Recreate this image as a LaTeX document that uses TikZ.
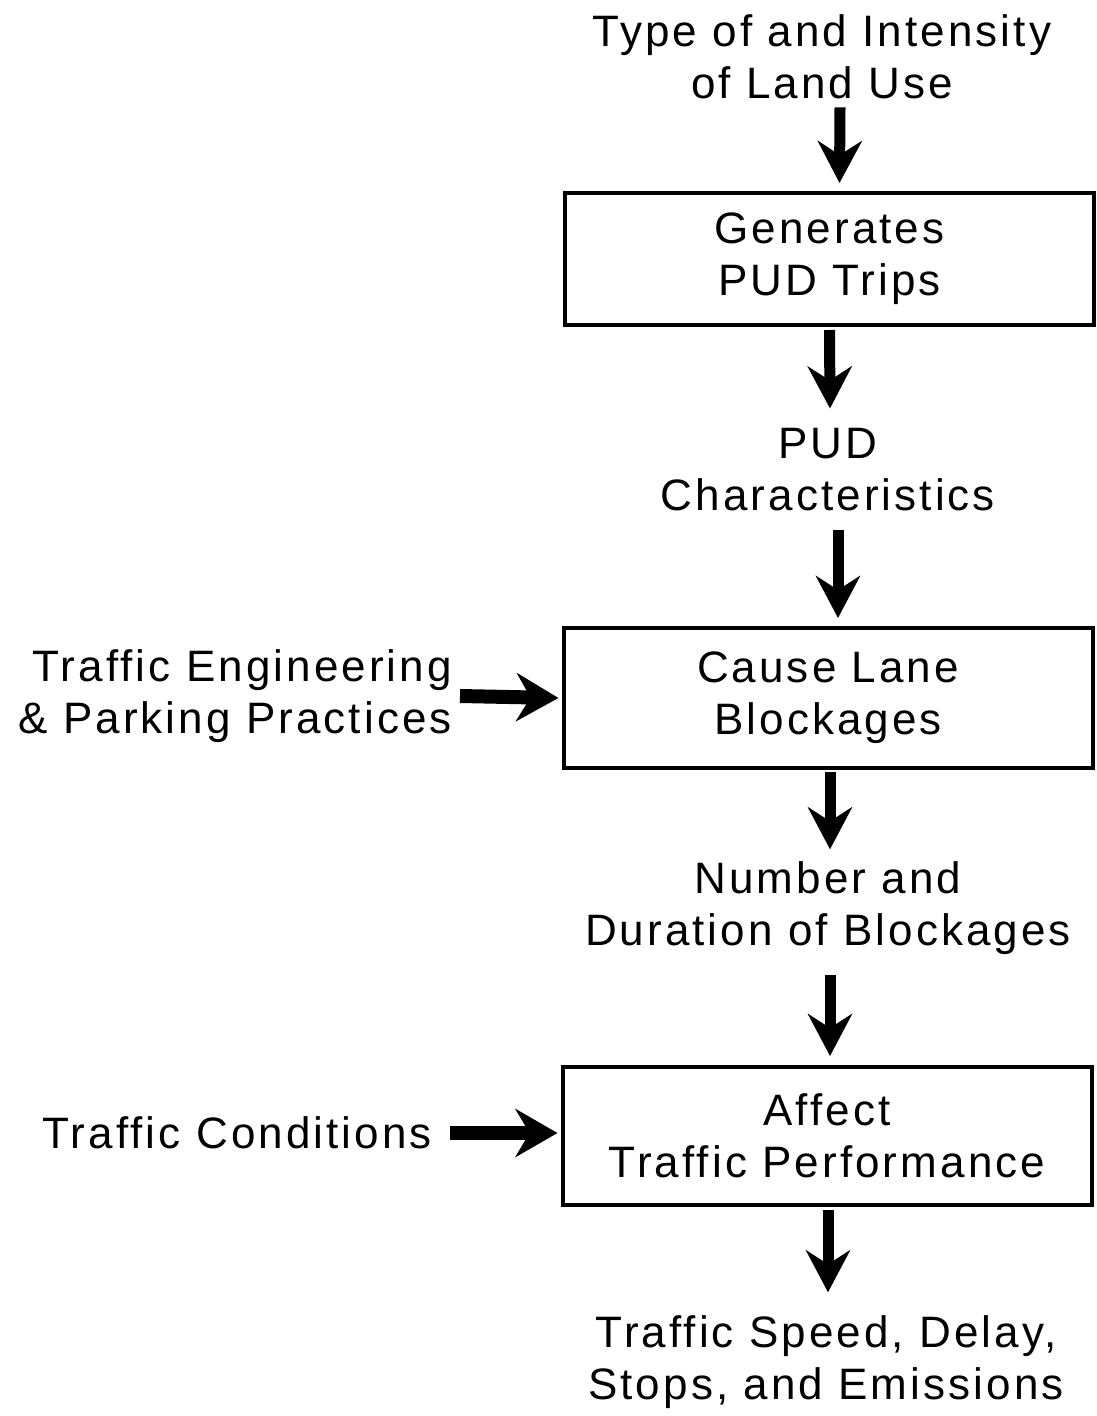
\documentclass[tikz,border=0pt]{standalone}
\usepackage{fontspec}
\setmainfont{Liberation Sans}[LetterSpace=7]
\usetikzlibrary{arrows.meta,calc}
\begin{document}
\begin{tikzpicture}[x=1pt,y=-1pt,
  lbl/.style={align=center,font=\fontsize{44}{52}\selectfont,inner sep=0pt},
  box/.style={draw,line width=4pt,minimum width=529pt,inner sep=0pt},
  arr/.style={line width=11pt,-{Stealth[length=42pt,width=44pt,inset=14pt]}},
  harr/.style={line width=14pt,-{Stealth[length=42pt,width=48pt,inset=14pt]}}]
\useasboundingbox (0,0) rectangle (1096,1416);
% texts
\node[lbl] (t1) at (822,57) {Type of and Intensity\\of Land Use};
\node[box,minimum height=132pt] (b1) at (829.5,259) {};
\node[lbl] at (b1) {Generates\\PUD Trips};
\node[lbl] (t2) at (828,470) {PUD\\Characteristics};
\node[box,minimum height=140pt] (b2) at (828,698) {};
\node[lbl] at (b2) {Cause Lane\\Blockages};
\node[lbl,align=right,anchor=east] (l1) at (452,696) {Traffic Engineering\\\& Parking Practices};
\node[lbl] (t3) at (828,908) {Number and\\Duration of Blockages};
\node[box,minimum height=138pt] (b3) at (827,1136) {};
\node[lbl] at (b3) {Affect\\Traffic Performance};
\node[lbl,anchor=east] (l2) at (432,1133) {Traffic Conditions};
\node[lbl] (t4) at (826,1362) {Traffic Speed, Delay,\\Stops, and Emissions};
% arrows
\draw[arr] ($(t1.south)+(18,8)$) -- ($(b1.north)+(10,-8)$);
\draw[arr] ($(b1.south)+(0,3)$) -- ($(t2.north)+(2,-20)$);
\draw[arr] ($(t2.south)+(10,18)$) -- ($(b2.north)+(10,-8)$);
\draw[arr] ($(b2.south)+(2,2)$) -- ($(t3.north)+(2,-12)$);
\draw[arr] ($(t3.south)+(2,20)$) -- ($(b3.north)+(3,-9)$);
\draw[arr] ($(b3.south)+(1,3)$) -- ($(t4.north)+(2,-23)$);
\draw[harr] ($(l1.east)+(8,0)$) -- ($(b2.west)+(-3,0)$);
\draw[harr] ($(l2.east)+(18,0)$) -- ($(b3.west)+(-3,-3)$);
\end{tikzpicture}
\end{document}
